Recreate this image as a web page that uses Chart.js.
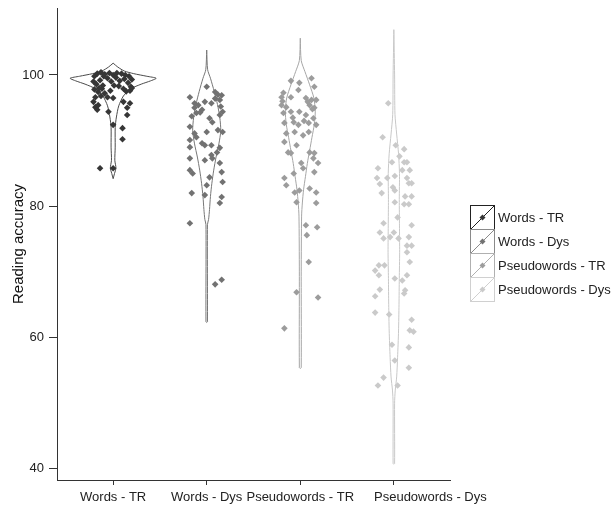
<!DOCTYPE html>
<html><head><meta charset="utf-8">
<script src="https://cdn.jsdelivr.net/npm/chart.js@4.4.1/dist/chart.umd.min.js"></script>
<style>html,body{margin:0;padding:0;background:#fff}canvas{display:block}</style>
</head><body><canvas id="c" width="613" height="509"></canvas>
<script>
// ---- data ----
const categories = ['Words - TR', 'Words - Dys', 'Pseudowords - TR', 'Pseudowords - Dys'];
const yTicks = [40, 60, 80, 100];

// jittered observations: [jitter (fraction of category spacing), reading accuracy]
const wordsTR = [
  [-0.19,96.6],[-0.21,95.9],[-0.19,95.1],[-0.17,94.7],[-0.16,95.4],[0,96.5],[0.11,95.9],[0.18,95.7],
  [0.15,95.0],[0.15,93.9],[-0.05,94.4],[0,92.4],[0.10,91.9],[0.10,90.2],[-0.14,85.8],[0,85.8],
  [-0.20,99.8],[-0.17,100.2],[-0.13,100.4],[-0.09,100.1],[-0.04,100.3],[0,100.0],[0.04,100.3],[0.09,100.2],
  [0.13,100.0],[0.17,99.8],[0.20,99.3],[-0.21,99.0],[-0.18,98.6],[-0.14,99.2],[-0.11,98.4],[-0.06,99.5],
  [-0.02,99.0],[0.03,99.6],[0.07,99.1],[0.12,99.4],[0.16,98.8],[0.19,98.2],[-0.20,97.8],[-0.16,97.4],
  [-0.12,97.9],[-0.09,97.2],[-0.13,96.8],[-0.06,96.6],[-0.03,97.6],[0.06,98.3],[0.11,97.9],[0.14,97.5],
  [0.18,97.6],[0.20,98.0],[-0.10,99.8],[0.01,98.4],[-0.15,98.0]
];
const wordsDys = [
  [0,98.2],[0.09,97.4],[0.16,96.9],[-0.18,96.6],[0.14,96.2],[-0.13,95.7],[-0.02,95.9],[0.05,95.7],
  [0.17,94.4],[-0.05,94.7],[-0.11,94.2],[-0.16,93.7],[-0.18,92.1],[0.03,93.4],[0.06,92.8],[0.14,93.9],
  [0.12,91.6],[0.17,91.3],[0,91.3],[-0.13,91.1],[-0.11,90.5],[-0.18,90.1],[-0.18,89.0],[-0.05,89.6],
  [-0.02,89.3],[0.05,89.3],[0.14,88.9],[0.11,88.2],[-0.18,87.3],[-0.02,87.0],[0.05,87.8],[0.06,87.3],
  [0.14,86.6],[0.16,85.2],[-0.18,85.5],[-0.15,85.0],[0.17,83.7],[0.03,84.4],[0,83.2],[-0.16,82.0],
  [-0.02,81.7],[0.16,81.4],[0.14,80.5],[-0.18,77.4],[0.09,68.1],[0.16,68.8],
  [-0.13,95.0],[-0.09,95.4],[0.12,97.0],[0.15,95.2],[0.09,96.4],[-0.07,94.3]
];
const pseudoTR = [
  [-0.10,99.1],[0.12,99.5],[0.15,98.2],[-0.01,98.8],[-0.02,97.7],[-0.18,97.3],[-0.20,96.6],[-0.10,96.6],
  [0.06,96.5],[0.12,96.2],[0.17,96.2],[-0.20,95.4],[-0.15,95.1],[0.10,95.4],[0.15,95.0],[-0.18,94.2],
  [-0.10,94.4],[-0.01,94.4],[0.06,93.9],[0.14,93.4],[-0.17,92.7],[-0.07,92.8],[-0.02,92.4],[0.09,92.7],
  [0.17,92.4],[-0.15,91.1],[-0.06,91.3],[0.03,90.8],[0.09,91.3],[-0.17,89.8],[-0.04,89.3],[-0.13,88.2],
  [-0.10,88.1],[0.10,88.2],[0.15,88.1],[0.14,87.3],[0.19,86.6],[0.01,86.6],[0.03,85.8],[-0.07,85.0],
  [0.15,85.2],[-0.17,84.3],[-0.15,83.2],[-0.06,82.1],[-0.01,82.4],[0.10,82.7],[0.17,82.1],[-0.04,80.6],
  [0.17,80.5],[0.06,77.1],[0.18,76.8],[0.07,75.6],[0.09,71.5],[-0.04,66.9],[0.19,66.1],[-0.17,61.4],
  [-0.19,96.0],[0.08,95.9],[0.13,94.8],[-0.08,93.5],[0.04,93.0]
];
const pseudoDys = [
  [-0.06,95.7],[-0.12,90.5],[0.02,89.3],[0.11,88.7],[0.06,87.6],[-0.02,86.7],[0.11,86.7],[0.14,86.7],
  [-0.17,85.8],[0.09,85.5],[0.17,85.5],[-0.07,84.3],[-0.18,84.3],[0.01,84.6],[0.14,84.3],[-0.15,83.4],
  [-0.01,82.9],[0.16,83.5],[-0.13,82.0],[0.01,82.4],[0.19,83.5],[0.12,81.5],[0.19,81.5],[0.01,80.6],
  [0.11,80.3],[0.16,80.3],[0.04,78.3],[-0.11,77.4],[0.19,77.1],[-0.15,76.0],[0,76.0],[-0.11,75.1],
  [-0.04,75.3],[0.05,75.1],[0.16,75.3],[0.19,74.0],[0.14,74.0],[0.14,73.0],[0.17,71.5],[-0.16,71.0],
  [-0.20,70.2],[-0.10,71.0],[-0.16,69.5],[0.01,69.0],[0.09,68.7],[0.14,69.5],[0.12,67.2],[0.11,66.7],
  [-0.15,67.3],[-0.20,66.3],[-0.20,63.8],[-0.05,63.5],[0.19,62.7],[0.17,61.1],[0.21,60.9],[-0.02,58.9],
  [0.16,58.5],[0.16,55.4],[0.01,56.5],[-0.11,53.9],[-0.17,52.7],[0.04,52.7]
];

// violin density outlines: [reading accuracy, half width (fraction of category spacing)]
const violinWordsTR = [
  [101.8,0],[101.2,0.05],[100.6,0.12],[100.2,0.22],[99.8,0.36],[99.5,0.46],[99.1,0.40],[98.6,0.30],
  [97.9,0.19],[96.8,0.11],[95.3,0.06],[93.6,0.035],[92,0.022],[89,0.022],[87,0.018],[85.8,0.03],[85,0.015],[84.2,0]
];
const violinWordsDys = [
  [103.8,0],[100.8,0.01],[99.5,0.04],[97.5,0.08],[95.5,0.115],[93.5,0.14],[91.5,0.15],[89.5,0.13],
  [87.5,0.10],[85.5,0.075],[83.5,0.055],[81.5,0.04],[79.5,0.03],[78,0.02],[77.2,0.008],[62.4,0.008],[62.3,0]
];
const violinPseudoTR = [
  [105.6,0],[102.2,0.01],[100.5,0.05],[98.5,0.10],[96.5,0.145],[94.5,0.16],[92.5,0.15],[90.5,0.125],
  [88.5,0.10],[86.5,0.075],[84.5,0.055],[82.5,0.035],[80.5,0.022],[78.5,0.014],[70,0.01],[55.4,0.01],[55.3,0]
];
const violinPseudoDys = [
  [106.9,0],[100,0.008],[94,0.012],[91,0.03],[88,0.05],[85,0.06],[81,0.058],[77,0.06],[73,0.062],
  [69,0.058],[65,0.055],[61,0.05],[57,0.04],[54,0.03],[52,0.015],[50,0.008],[40.8,0.008],[40.7,0]
];

// ---- styles ----
const pointColors = ['#363636', '#727272', '#9c9c9c', '#cacaca'];
const outlineColors = ['#4a4a4a', '#777777', '#a6a6a6', '#c8c8c8'];
const legendBorder = ['#222222', '#8a8a8a', '#b0b0b0', '#d0d0d0'];
const FONT = "'Liberation Sans', Arial, sans-serif";

const groups = [wordsTR, wordsDys, pseudoTR, pseudoDys];
const violins = [violinWordsTR, violinWordsDys, violinPseudoTR, violinPseudoDys];

function violinPath(v, pos) {
  const right = v.map(([y, w]) => ({ x: pos + w, y }));
  const left = v.slice().reverse().map(([y, w]) => ({ x: pos - w, y }));
  return right.concat(left);
}

const datasets = [];
groups.forEach((g, i) => {
  datasets.push({
    type: 'scatter', label: categories[i], order: 0,
    data: g.map(([j, v]) => ({ x: i + 1 + j, y: v })),
    pointStyle: 'rectRot', pointRadius: 3.3, pointHoverRadius: 3.3,
    backgroundColor: pointColors[i], borderWidth: 0
  });
});
violins.forEach((v, i) => {
  datasets.push({
    type: 'scatter', label: categories[i] + ' violin', order: 1,
    data: violinPath(v, i + 1), showLine: true, fill: false, tension: 0.25,
    borderColor: outlineColors[i], borderWidth: 1, pointRadius: 0, pointHoverRadius: 0
  });
});

const xTickValues = [1, 2, 3, 4, 4.39];
const xTickLabels = [categories[0], categories[1], categories[2], '', categories[3]];

const legendPlugin = {
  id: 'boxLegend',
  afterDraw(chart) {
    const ctx = chart.ctx;
    ctx.save();
    const x0 = 470, y0 = 205, w = 24, h = 24;
    categories.forEach((name, i) => {
      const y = y0 + i * h;
      ctx.strokeStyle = legendBorder[i];
      ctx.lineWidth = 1;
      ctx.strokeRect(x0 + 0.5, y + 0.5, w, h);
      ctx.beginPath();
      ctx.moveTo(x0 + 1, y + h);
      ctx.lineTo(x0 + w, y + 1);
      ctx.stroke();
      const cx = x0 + w / 2 + 0.5, cy = y + h / 2 + 0.5, r = 3;
      ctx.fillStyle = pointColors[i];
      ctx.beginPath();
      ctx.moveTo(cx, cy - r); ctx.lineTo(cx + r, cy); ctx.lineTo(cx, cy + r); ctx.lineTo(cx - r, cy);
      ctx.closePath(); ctx.fill();
      ctx.fillStyle = '#222';
      ctx.font = '13px ' + FONT;
      ctx.textBaseline = 'middle';
      ctx.textAlign = 'left';
      ctx.fillText(name, x0 + w + 4, y + h / 2 + 1);
    });
    ctx.restore();
  }
};

new Chart(document.getElementById('c'), {
  data: { datasets },
  plugins: [legendPlugin],
  options: {
    responsive: false, animation: false, devicePixelRatio: 1,
    layout: { padding: { top: 8, right: 163, left: 0, bottom: 0 } },
    plugins: { legend: { display: false }, tooltip: { enabled: false } },
    scales: {
      x: {
        type: 'linear', min: 0.4, max: 4.6,
        afterBuildTicks: s => { s.ticks = xTickValues.map(v => ({ value: v })); },
        afterFit: s => { s.height = 29; s.paddingLeft = 0; s.paddingRight = 0; },
        ticks: { autoSkip: false, maxRotation: 0, minRotation: 0, padding: 5, color: '#222',
          font: { family: FONT, size: 13 }, callback: (v, i) => xTickLabels[i] },
        grid: { drawOnChartArea: false, drawTicks: true, tickLength: 5,
          tickColor: c => (c.index === 4 ? 'rgba(0,0,0,0)' : '#333') },
        border: { display: true, color: '#333', width: 1 }
      },
      y: {
        type: 'linear', min: 38.3, max: 110.2,
        afterBuildTicks: s => { s.ticks = yTicks.map(v => ({ value: v })); },
        afterFit: s => { s.width = 57; s.paddingTop = 0; s.paddingBottom = 0; },
        ticks: { padding: 5, color: '#222', font: { family: FONT, size: 13 } },
        grid: { drawOnChartArea: false, drawTicks: true, tickLength: 8, tickColor: '#333' },
        border: { display: true, color: '#333', width: 1 },
        title: { display: true, text: 'Reading accuracy', color: '#111',
          font: { family: FONT, size: 15 }, padding: { top: 10, bottom: 0 } }
      }
    }
  }
});
</script>
</body></html>
